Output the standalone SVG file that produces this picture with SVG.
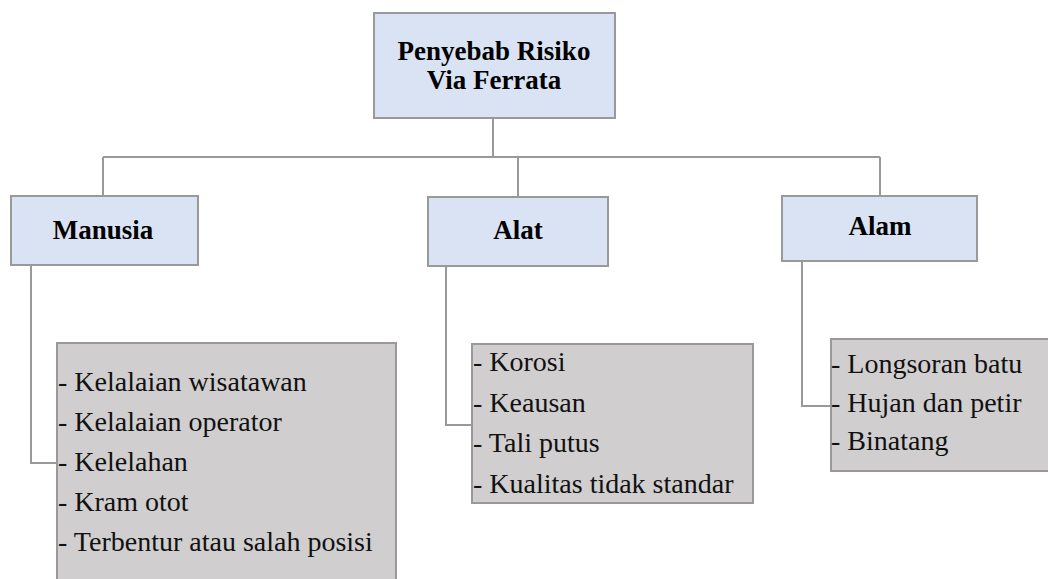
<svg xmlns="http://www.w3.org/2000/svg" width="1048" height="579" viewBox="0 0 1048 579">
<style>
.hd{fill:#dae3f3;stroke:#999999;stroke-width:2}
.lst{fill:#d0cece;stroke:#999999;stroke-width:2}
.con{fill:none;stroke:#999999;stroke-width:2}
.b{font-family:'Liberation Serif','Times New Roman',Tinos,'DejaVu Serif',serif;font-weight:bold;font-size:27px;fill:#000;text-anchor:middle}
.t{font-family:'Liberation Serif','Times New Roman',Tinos,'DejaVu Serif',serif;font-size:28px;fill:#111}
</style>
<rect width="1048" height="579" fill="#fff"/>
<g id="connectors">
<path class="con" d="M493,118 V157 M103,157 H880 M103,157 V196 M518,157 V197 M880,157 V196"/>
<path class="con" d="M31,265 V463 H57"/>
<path class="con" d="M446,266 V425 H472"/>
<path class="con" d="M802,261 V406 H831"/>
</g>
<g id="root">
<rect class="hd" x="374" y="13" width="241" height="105"/>
<text class="b" x="494" y="60">Penyebab Risiko</text>
<text class="b" x="494" y="89">Via Ferrata</text>
</g>
<g id="manusia">
<rect class="hd" x="11" y="196" width="187" height="69"/>
<text class="b" x="103" y="239">Manusia</text>
</g>
<g id="alat">
<rect class="hd" x="428" y="197" width="180" height="69"/>
<text class="b" x="518" y="239">Alat</text>
</g>
<g id="alam">
<rect class="hd" x="782" y="196" width="195" height="65"/>
<text class="b" x="880" y="235">Alam</text>
</g>
<g id="manusia-list">
<rect class="lst" x="57" y="343" width="339" height="250"/>
<text class="t" x="58" y="391">- Kelalaian wisatawan</text>
<text class="t" x="58" y="431">- Kelalaian operator</text>
<text class="t" x="58" y="471">- Kelelahan</text>
<text class="t" x="58" y="511">- Kram otot</text>
<text class="t" x="58" y="551">- Terbentur atau salah posisi</text>
</g>
<g id="alat-list">
<rect class="lst" x="472" y="344" width="281" height="159"/>
<text class="t" x="473" y="371">- Korosi</text>
<text class="t" x="473" y="412">- Keausan</text>
<text class="t" x="473" y="452">- Tali putus</text>
<text class="t" x="473" y="493">- Kualitas tidak standar</text>
</g>
<g id="alam-list">
<rect class="lst" x="831" y="339" width="230" height="132"/>
<text class="t" x="831" y="373">- Longsoran  batu</text>
<text class="t" x="831" y="412">- Hujan dan petir</text>
<text class="t" x="831" y="450">- Binatang</text>
</g>
</svg>
